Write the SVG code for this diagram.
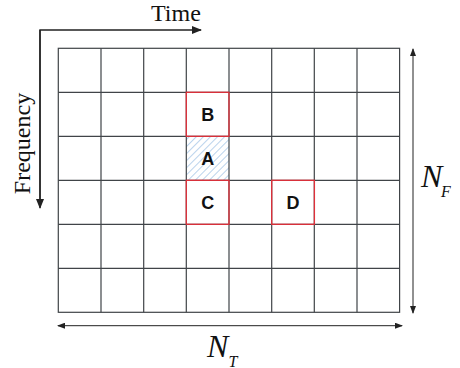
<svg xmlns="http://www.w3.org/2000/svg" width="460" height="368" viewBox="0 0 460 368">
<style>
.grid{stroke:#404448;stroke-width:1.2;fill:none}
.red{stroke:#e0303a;stroke-width:1.3;fill:none}
.lbl{font-family:"Liberation Sans",Arial,sans-serif;font-weight:bold;font-size:18px;fill:#111;text-anchor:middle}
.ax{font-family:"Liberation Serif","Times New Roman",serif;font-size:24px;fill:#111}
.math{font-family:"Liberation Serif","Times New Roman",serif;font-style:italic;fill:#111}
.conn{stroke:#222;stroke-width:1.4;fill:none}
.dim{stroke:#222;stroke-width:1;fill:none}
</style>
<defs>
<pattern id="hatch" patternUnits="userSpaceOnUse" width="5" height="5" patternTransform="rotate(45)">
<rect width="5" height="5" fill="#fff"/>
<line x1="0" y1="0" x2="0" y2="5" stroke="#9cc0e4" stroke-width="1.4"/>
</pattern>
<marker id="ah" markerWidth="10" markerHeight="8" refX="9" refY="4" orient="auto" markerUnits="userSpaceOnUse">
<path d="M0,0 L10,4 L0,8 Z" fill="#222"/>
</marker>
<marker id="sh" markerWidth="8" markerHeight="6" refX="7" refY="3" orient="auto-start-reverse" markerUnits="userSpaceOnUse">
<path d="M0,0 L8,3 L0,6 Z" fill="#222"/>
</marker>
</defs>
<g id="grid">
<rect x="186.3" y="136" width="42.7" height="44" fill="url(#hatch)"/>
<rect class="grid" x="58.3" y="48.3" width="341.3" height="264"/>
<path class="grid" d="M101,48.3V312.3M143.7,48.3V312.3M186.3,48.3V312.3M229,48.3V312.3M271.7,48.3V312.3M314.3,48.3V312.3M357,48.3V312.3M58.3,92.3H399.6M58.3,136.3H399.6M58.3,180.3H399.6M58.3,224.3H399.6M58.3,268.3H399.6"/>
</g>
<g id="B"><rect class="red" x="186.3" y="92.3" width="42.7" height="44"/><text class="lbl" x="207.7" y="121">B</text></g>
<g id="A"><text class="lbl" x="207.7" y="165">A</text></g>
<g id="C"><rect class="red" x="186.3" y="180.3" width="42.7" height="44"/><text class="lbl" x="207.7" y="209">C</text></g>
<g id="D"><rect class="red" x="271.7" y="180.3" width="42.7" height="44"/><text class="lbl" x="293" y="209">D</text></g>
<g id="connectors">
<path class="conn" d="M40,207 V30 H201" marker-end="url(#ah)"/>
<path class="conn" d="M40,30 V208" marker-end="url(#ah)"/>
<path class="dim" d="M413,49 V313" marker-start="url(#sh)" marker-end="url(#sh)"/>
<path class="dim" d="M58,325.7 H402" marker-start="url(#sh)" marker-end="url(#sh)"/>
</g>
<g id="labels">
<text class="ax" x="151" y="20.5">Time</text>
<text class="ax" transform="translate(30,143.5) rotate(-90)" text-anchor="middle" font-size="26">Frequency</text>
<text class="math" x="421" y="187" font-size="32">N<tspan x="441" y="197" font-size="16">F</tspan></text>
<text class="math" x="207" y="357" font-size="32">N<tspan x="228.5" y="366.5" font-size="16">T</tspan></text>
</g>
</svg>
